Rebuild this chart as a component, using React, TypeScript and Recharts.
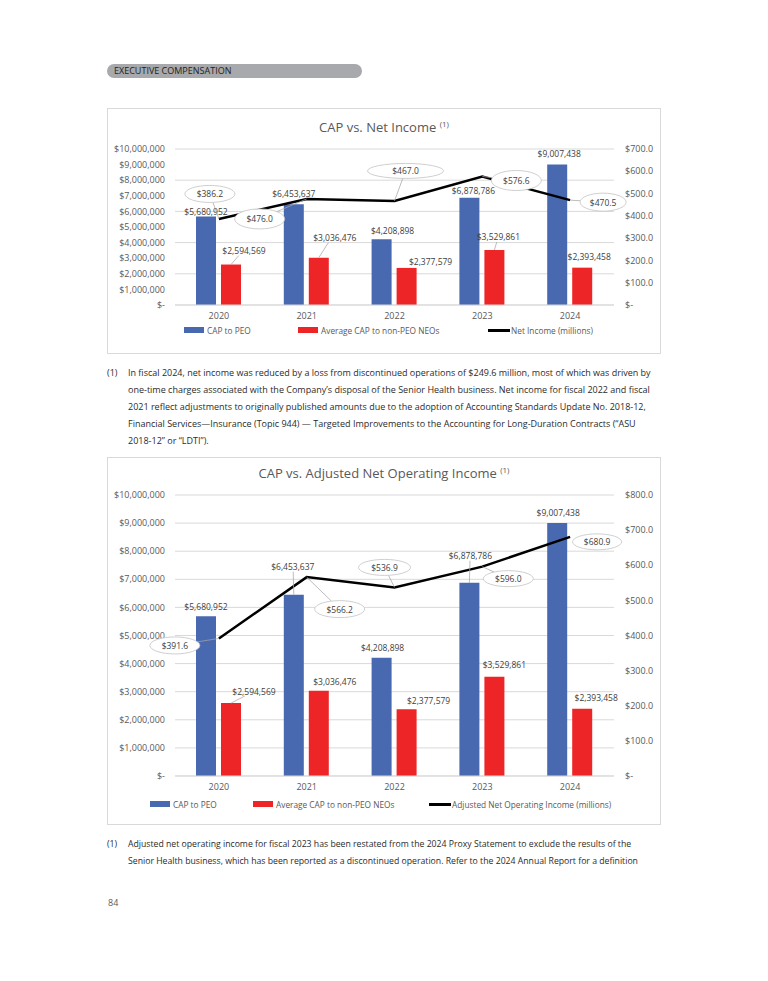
import React from 'react';
import { ComposedChart, Bar, Line, XAxis, YAxis, CartesianGrid, LabelList } from 'recharts';

const years = ['2020', '2021', '2022', '2023', '2024'];
const capToPeo = [5680952, 6453637, 4208898, 6878786, 9007438];
const avgCapNonPeo = [2594569, 3036476, 2377579, 3529861, 2393458];
const netIncome = [386.2, 476.0, 467.0, 576.6, 470.5];
const adjNetOpIncome = [391.6, 566.2, 536.9, 596.0, 680.9];

const capTicks = [0, 1000000, 2000000, 3000000, 4000000, 5000000, 6000000, 7000000, 8000000, 9000000, 10000000];
const netIncomeTicks = [0, 100, 200, 300, 400, 500, 600, 700];
const adjIncomeTicks = [0, 100, 200, 300, 400, 500, 600, 700, 800];

// label nudges (dx, dy, leader) relative to the default spot above each bar
const chart1PeoShift = [[0, 5, 0], [0, -1, 0], [11, 1, 0], [4, 3, 0], [2, -1, 0]];
const chart1NeoShift = [[13, -4, 1], [16, -10, 1], [24, 4, 0], [4, -3, 1], [7, -1, 0]];
const chart2PeoShift = [[0, 0, 0], [-1, -18, 1], [1, 0, 0], [1, -17, 1], [1, 0, 0]];
const chart2NeoShift = [[23, -2, 1], [16, 1, 0], [22, 1, 0], [10, -2, 0], [14, -1, 0]];
// callout bubbles for the line: dx, dy, rx, ry
const chart1Bubbles = [[-9, -25, 25, 8.5], [-47, 20, 25, 10], [11, -30, 38, 7.5], [34, 4, 25, 10], [33, 2, 23, 9]];
const chart2Bubbles = [[-44, 7, 25, 8.5], [33, 32, 25, 8.5], [-10, -20, 26, 8], [26, 12, 25, 8], [27, 5, 24.5, 8]];

const BLUE = '#4868b0';
const RED = '#ee2527';
const FONT = "'Open Sans', sans-serif";
const AXIS_GRAY = '#595959';

const fmtCap = (v: number) => (v === 0 ? '$-' : '$' + v.toLocaleString('en-US'));
const fmtIncome = (v: number) => (v === 0 ? '$-' : '$' + v.toFixed(1));

const makeBarLabel = (values: number[], shifts: number[][]) => (props: any) => {
  const { x, y, width, value } = props;
  const i = props.index ?? values.indexOf(value);
  const [dx, dy, lead] = shifts[i] || [0, 0, 0];
  const cx = Number(x) + Number(width) / 2;
  const top = Number(y);
  const lx = cx + dx;
  const ly = top - 10 + dy;
  return (
    <g>
      {lead ? (
        <line x1={cx} y1={top} x2={cx + dx * 0.6} y2={ly + 5} stroke="#a6a6a6" strokeWidth={0.75} />
      ) : null}
      <text x={lx} y={ly} textAnchor="middle" dominantBaseline="central" fontSize={8.5} fontFamily={FONT} fill="#404040">
        {fmtCap(Number(value))}
      </text>
    </g>
  );
};

const makeBubble = (values: number[], shifts: number[][]) => (props: any) => {
  const { x, y, value } = props;
  const i = props.index ?? values.indexOf(value);
  const [dx, dy, rx, ry] = shifts[i];
  const px = Number(x);
  const py = Number(y);
  const ex = px + dx;
  const ey = py + dy;
  const vx = px - ex;
  const vy = py - ey;
  const k = Math.sqrt((vx / rx) ** 2 + (vy / ry) ** 2);
  let leader = null;
  if (k > 1) {
    const sx = ex + vx / k;
    const sy = ey + vy / k;
    if (Math.hypot(px - sx, py - sy) > 9) {
      leader = <line x1={sx} y1={sy} x2={px} y2={py} stroke="#a6a6a6" strokeWidth={0.75} />;
    }
  }
  return (
    <g>
      {leader}
      <ellipse cx={ex} cy={ey} rx={rx} ry={ry} fill="#fff" stroke="#bfbfbf" strokeWidth={0.75} />
      <text x={ex} y={ey} textAnchor="middle" dominantBaseline="central" fontSize={8.5} fontFamily={FONT} fill="#404040">
        {'$' + Number(value).toFixed(1)}
      </text>
    </g>
  );
};

interface CapChartProps {
  income: number[];
  incomeTicks: number[];
  height: number;
  top: number;
  peoShift: number[][];
  neoShift: number[][];
  bubbles: number[][];
}

const CapChart = ({ income, incomeTicks, height, top, peoShift, neoShift, bubbles }: CapChartProps) => {
  const data = years.map((year, i) => ({
    year,
    peo: capToPeo[i],
    neo: avgCapNonPeo[i],
    income: income[i],
  }));
  const tick = { fontSize: 9, fill: AXIS_GRAY, fontFamily: FONT };
  return (
    <ComposedChart
      width={554}
      height={height}
      data={data}
      margin={{ top, right: 0, bottom: 29, left: 0 }}
      barGap={5}
    >
      <CartesianGrid yAxisId="cap" vertical={false} stroke="#d9d9d9" />
      <XAxis
        dataKey="year"
        height={20}
        tick={tick}
        tickLine={false}
        tickSize={0}
        tickMargin={8}
        axisLine={{ stroke: '#d9d9d9' }}
      />
      <YAxis
        yAxisId="cap"
        width={68}
        domain={[0, 10000000]}
        ticks={capTicks}
        tickFormatter={fmtCap}
        tick={tick}
        tickLine={false}
        tickSize={0}
        tickMargin={10}
        axisLine={false}
      />
      <YAxis
        yAxisId="income"
        orientation="right"
        width={47}
        domain={[0, incomeTicks[incomeTicks.length - 1]]}
        ticks={incomeTicks}
        tickFormatter={fmtIncome}
        tick={tick}
        tickLine={false}
        tickSize={0}
        tickMargin={11}
        axisLine={false}
      />
      <Bar yAxisId="cap" dataKey="peo" fill={BLUE} barSize={20} isAnimationActive={false}>
        <LabelList dataKey="peo" content={makeBarLabel(capToPeo, peoShift)} />
      </Bar>
      <Bar yAxisId="cap" dataKey="neo" fill={RED} barSize={20} isAnimationActive={false}>
        <LabelList dataKey="neo" content={makeBarLabel(avgCapNonPeo, neoShift)} />
      </Bar>
      <Line
        yAxisId="income"
        dataKey="income"
        stroke="#000"
        strokeWidth={2.5}
        dot={false}
        type="linear"
        isAnimationActive={false}
      >
        <LabelList dataKey="income" content={makeBubble(income, bubbles)} />
      </Line>
    </ComposedChart>
  );
};

const LegendRow = ({ y, items }: { y: number; items: { x: number; color: string; label: string; line?: boolean }[] }) => (
  <>
    {items.map((it) => (
      <div
        key={it.label}
        style={{ position: 'absolute', left: it.x, top: y - 6, height: 12, display: 'flex', alignItems: 'center', whiteSpace: 'nowrap' }}
      >
        <span
          style={{
            display: 'inline-block',
            width: it.line ? 22 : 20,
            height: it.line ? 3 : 6,
            background: it.color,
            marginRight: it.line ? 1 : 3,
          }}
        />
        <span style={{ fontSize: 8.3, color: AXIS_GRAY, fontFamily: FONT }}>{it.label}</span>
      </div>
    ))}
  </>
);

const Title = ({ top, text }: { top: number; text: string }) => (
  <div
    style={{
      position: 'absolute',
      left: 107,
      top,
      width: 554,
      textAlign: 'center',
      fontSize: 13,
      lineHeight: '16px',
      color: AXIS_GRAY,
      fontFamily: FONT,
    }}
  >
    {text} <span style={{ fontSize: 8, position: 'relative', top: -5 }}>(1)</span>
  </div>
);

const note1 = [
  'In fiscal 2024, net income was reduced by a loss from discontinued operations of $249.6 million, most of which was driven by',
  'one-time charges associated with the Company\u2019s disposal of the Senior Health business. Net income for fiscal 2022 and fiscal',
  '2021 reflect adjustments to originally published amounts due to the adoption of Accounting Standards Update No. 2018-12,',
  'Financial Services\u2014Insurance (Topic 944) \u2014 Targeted Improvements to the Accounting for Long-Duration Contracts (\u201cASU',
  '2018-12\u201d or \u201cLDTI\u201d).',
];
const note2 = [
  'Adjusted net operating income for fiscal 2023 has been restated from the 2024 Proxy Statement to exclude the results of the',
  'Senior Health business, which has been reported as a discontinued operation. Refer to the 2024 Annual Report for a definition',
];

const Footnote = ({ top, lines, size }: { top: number; lines: string[]; size: number }) => (
  <div style={{ position: 'absolute', left: 107, top, fontSize: size, lineHeight: '17px', color: '#2b2b2b', fontFamily: FONT }}>
    <div style={{ position: 'absolute', left: 0, top: 0 }}>(1)</div>
    <div style={{ position: 'absolute', left: 21, top: 0, whiteSpace: 'nowrap' }}>
      {lines.map((l) => (
        <div key={l}>{l}</div>
      ))}
    </div>
  </div>
);

const boxStyle = (top: number, height: number): React.CSSProperties => ({
  position: 'absolute',
  left: 107,
  top,
  width: 554,
  height,
  boxSizing: 'border-box',
  border: '1px solid #d9d9d9',
});

export default function App() {
  return (
    <div style={{ position: 'relative', width: 768, height: 981, background: '#fff', fontFamily: FONT, overflow: 'hidden' }}>
      <style>{'body{margin:0}'}</style>

      <div
        style={{
          position: 'absolute',
          left: 107,
          top: 64,
          width: 255,
          height: 14,
          borderRadius: 7,
          background: '#a7a9ac',
        }}
      />
      <div style={{ position: 'absolute', left: 114, top: 64, lineHeight: '14px', fontSize: 9, color: '#231f20' }}>
        EXECUTIVE COMPENSATION
      </div>

      <div style={boxStyle(108, 246)} />
      <Title top={119} text="CAP vs. Net Income" />
      <div style={{ position: 'absolute', left: 107, top: 108 }}>
        <CapChart
          income={netIncome}
          incomeTicks={netIncomeTicks}
          height={246}
          top={41}
          peoShift={chart1PeoShift}
          neoShift={chart1NeoShift}
          bubbles={chart1Bubbles}
        />
      </div>
      <LegendRow
        y={330}
        items={[
          { x: 184, color: BLUE, label: 'CAP to PEO' },
          { x: 298, color: RED, label: 'Average CAP to non-PEO NEOs' },
          { x: 488, color: '#000', label: 'Net Income (millions)', line: true },
        ]}
      />

      <Footnote top={364} lines={note1} size={9} />

      <div style={boxStyle(457, 368)} />
      <Title top={465} text="CAP vs. Adjusted Net Operating Income" />
      <div style={{ position: 'absolute', left: 107, top: 457 }}>
        <CapChart
          income={adjNetOpIncome}
          incomeTicks={adjIncomeTicks}
          height={368}
          top={38}
          peoShift={chart2PeoShift}
          neoShift={chart2NeoShift}
          bubbles={chart2Bubbles}
        />
      </div>
      <LegendRow
        y={804}
        items={[
          { x: 150, color: BLUE, label: 'CAP to PEO' },
          { x: 253, color: RED, label: 'Average CAP to non-PEO NEOs' },
          { x: 429, color: '#000', label: 'Adjusted Net Operating Income (millions)', line: true },
        ]}
      />

      <Footnote top={836} lines={note2} size={8.7} />

      <div style={{ position: 'absolute', left: 108, top: 896, fontSize: 9, color: AXIS_GRAY }}>84</div>
    </div>
  );
}
